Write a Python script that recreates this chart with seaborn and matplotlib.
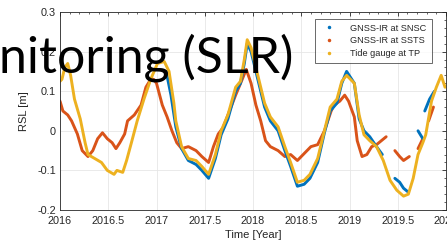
import numpy as np
import pandas as pd
import matplotlib
matplotlib.use("Agg")
import matplotlib.pyplot as plt
from matplotlib.lines import Line2D
from matplotlib.ticker import MultipleLocator
import seaborn as sns

# ---------------- data ----------------
tide_t = [2016.00, 2016.02, 2016.05, 2016.08, 2016.11, 2016.15, 2016.21, 2016.26, 2016.29,
          2016.36, 2016.43, 2016.49, 2016.56, 2016.59, 2016.65, 2016.69, 2016.74, 2016.80,
          2016.87, 2016.94, 2017.01, 2017.08, 2017.13, 2017.18, 2017.20, 2017.26, 2017.33,
          2017.41, 2017.47, 2017.54, 2017.61, 2017.67, 2017.74, 2017.82, 2017.87, 2017.91,
          2017.94, 2017.98, 2018.05, 2018.12, 2018.18, 2018.26, 2018.33, 2018.39, 2018.46,
          2018.53, 2018.59, 2018.67, 2018.74, 2018.80, 2018.87, 2018.92, 2018.97, 2019.05,
          2019.10, 2019.15, 2019.21, 2019.28, 2019.35, 2019.42, 2019.49, 2019.56, 2019.61,
          2019.66, 2019.71, 2019.76, 2019.79, 2019.85, 2019.90, 2019.95, 2019.99]
tide_v = [0.125, 0.13, 0.16, 0.17, 0.14, 0.08, 0.03, -0.03, -0.06,
          -0.07, -0.08, -0.10, -0.11, -0.10, -0.105, -0.075, -0.03, 0.025,
          0.08, 0.13, 0.17, 0.175, 0.15, 0.07, 0.025, -0.04, -0.07,
          -0.075, -0.09, -0.11, -0.06, 0.0, 0.04, 0.11, 0.125, 0.18,
          0.23, 0.21, 0.14, 0.07, 0.035, 0.01, -0.04, -0.08, -0.13,
          -0.125, -0.11, -0.07, 0.0, 0.06, 0.08, 0.125, 0.14, 0.12,
          0.04, -0.01, -0.025, -0.04, -0.075, -0.125, -0.15, -0.165, -0.16,
          -0.12, -0.06, -0.03, -0.01, 0.075, 0.11, 0.14, 0.11]

snsc_t = [2017.10, 2017.15, 2017.20, 2017.26, 2017.33, 2017.41, 2017.47, 2017.54, 2017.61,
          2017.67, 2017.74, 2017.82, 2017.87, 2017.91, 2017.94, 2017.98, 2018.05, 2018.12,
          2018.18, 2018.26, 2018.33, 2018.39, 2018.46, 2018.53, 2018.59, 2018.67, 2018.74,
          2018.80, 2018.87, 2018.92, 2018.97, 2019.05, 2019.10, 2019.15, 2019.21, 2019.28,
          2019.34, 2019.38, 2019.47, 2019.52, 2019.56, 2019.61, 2019.66, 2019.71, 2019.76,
          2019.77, 2019.78, 2019.83, 2019.88]
snsc_v = [0.15, 0.09, 0.01, -0.045, -0.075, -0.085, -0.10, -0.12, -0.07,
          -0.01, 0.03, 0.10, 0.12, 0.17, 0.22, 0.20, 0.13, 0.06,
          0.025, 0.0, -0.05, -0.09, -0.14, -0.135, -0.12, -0.08, -0.005,
          0.05, 0.07, 0.12, 0.15, 0.12, 0.03, 0.0, -0.015, -0.04,
          -0.06, np.nan, -0.12, -0.13, -0.145, -0.155, np.nan, 0.0, -0.02,
          np.nan, 0.05, 0.08, 0.10]

ssts_t = [2016.00, 2016.03, 2016.08, 2016.12, 2016.18, 2016.23, 2016.29, 2016.34, 2016.39,
          2016.44, 2016.49, 2016.54, 2016.58, 2016.62, 2016.67, 2016.70, 2016.77, 2016.84,
          2016.89, 2016.94, 2016.97, 2017.00, 2017.06, 2017.11, 2017.16, 2017.21, 2017.26,
          2017.33, 2017.41, 2017.47, 2017.54, 2017.59, 2017.64, 2017.69, 2017.74, 2017.82,
          2017.88, 2017.93, 2017.98, 2018.03, 2018.08, 2018.13, 2018.18, 2018.26, 2018.33,
          2018.39, 2018.46, 2018.52, 2018.60, 2018.67, 2018.74, 2018.81, 2018.84, 2018.90,
          2018.95, 2018.99, 2019.05, 2019.08, 2019.13, 2019.18, 2019.23, 2019.28, 2019.33,
          2019.38, 2019.42, 2019.47, 2019.52, 2019.56, 2019.62, 2019.66, 2019.71, 2019.76,
          2019.79, 2019.82, 2019.87]
ssts_v = [0.075, 0.05, 0.04, 0.025, -0.008, -0.05, -0.065, -0.05, -0.02,
          -0.005, -0.02, -0.03, -0.045, -0.03, -0.008, 0.025, 0.04, 0.065,
          0.11, 0.13, 0.13, 0.12, 0.065, 0.035, 0.0, -0.03, -0.045,
          -0.04, -0.05, -0.065, -0.08, -0.04, -0.008, 0.008, 0.04, 0.09,
          0.125, 0.155, 0.12, 0.065, 0.025, -0.025, -0.04, -0.05, -0.065,
          -0.06, -0.075, -0.06, -0.04, -0.035, 0.0, 0.05, 0.065, 0.075,
          0.09, 0.075, 0.035, -0.025, -0.065, -0.06, -0.04, -0.035, -0.025,
          -0.015, np.nan, -0.05, -0.065, -0.075, -0.065, np.nan, -0.045, -0.02,
          np.nan, 0.025, 0.06]

series_names = ["GNSS-IR at SNSC", "GNSS-IR at SSTS", "Tide gauge at TP"]
series_colors = ["#0072BD", "#D95319", "#EDB120"]
overlay_text = "nitoring (SLR)"

# ---------------- plotting ----------------
sns.set_theme(style="white")
plt.rcParams["font.family"] = ["Liberation Sans", "DejaVu Sans"]

fig = plt.figure(figsize=(4.47, 2.47), dpi=100)
ax = fig.add_axes([60 / 447, 1 - 210 / 247, 386 / 447, 198 / 247])


def draw(t, v, color):
    df = pd.DataFrame({"t": t, "v": v})
    seg = df["v"].isna().cumsum()
    for _, part in df.groupby(seg):
        part = part.dropna()
        if len(part) > 1:
            sns.lineplot(data=part, x="t", y="v", ax=ax, color=color,
                         linewidth=2.1, estimator=None, sort=False, legend=False)


# draw order: SSTS, SNSC, Tide gauge on top
draw(ssts_t, ssts_v, series_colors[1])
draw(snsc_t, snsc_v, series_colors[0])
draw(tide_t, tide_v, series_colors[2])

ax.set_xlim(2016, 2020)
ax.set_ylim(-0.2, 0.3)
ax.xaxis.set_major_locator(MultipleLocator(0.5))
ax.xaxis.set_minor_locator(MultipleLocator(0.1))
ax.yaxis.set_major_locator(MultipleLocator(0.1))
ax.yaxis.set_minor_locator(MultipleLocator(0.02))
ax.set_xticklabels([f"{x:g}" for x in ax.get_xticks()])
ax.set_yticks([-0.2, -0.1, 0, 0.1, 0.2, 0.3])
ax.set_yticklabels(["-0.2", "-0.1", "0", "0.1", "0.2", "0.3"])
ax.tick_params(which="both", direction="in", top=True, right=True,
               colors="#262626", labelsize=7.8)
ax.tick_params(axis="x", pad=4)
ax.tick_params(axis="y", pad=3)
ax.tick_params(which="major", length=3, width=0.6)
ax.tick_params(which="minor", length=1.6, width=0.5)
ax.grid(True, which="major", color="#e6e6e6", linewidth=0.6)
for s in ax.spines.values():
    s.set_color("#262626")
    s.set_linewidth(0.6)

ax.set_xlabel("Time [Year]", fontsize=8, color="#262626", labelpad=3)
ax.set_ylabel("RSL [m]", fontsize=8, color="#262626", labelpad=6)

handles = [Line2D([], [], linestyle="none", marker=".", markersize=3, color=c)
           for c in series_colors]
leg = ax.legend(handles, series_names, loc="upper right", fontsize=6.6,
                frameon=True, fancybox=False, edgecolor="#262626",
                borderpad=0.55, handletextpad=1.3, labelspacing=0.42,
                handlelength=2.0, bbox_to_anchor=(0.975, 0.99))
leg.get_frame().set_linewidth(0.6)

fig.text(-0.002, 1 - 72 / 247, overlay_text, fontsize=36, family="Lato",
         color="black", ha="left", va="baseline")

fig.savefig("out.png", dpi=100)
